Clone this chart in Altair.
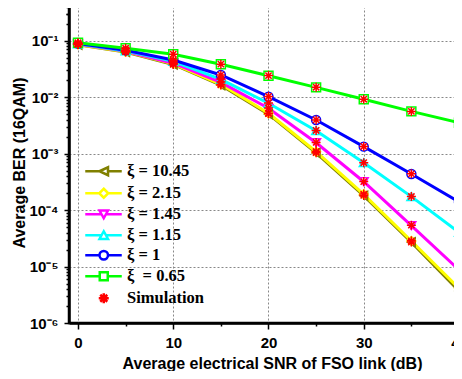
import altair as alt
import pandas as pd

# ---- data ----
snr_db = [0, 5, 10, 15, 20, 25, 30, 35, 40]

series_names = ["ξ = 10.45", "ξ = 2.15", "ξ = 1.45", "ξ = 1.15", "ξ = 1", "ξ\u00a0 = 0.65"]
series_colors = ["#808000", "#ffff00", "#ff00ff", "#00ffff", "#0000ff", "#00ff00"]
series_shapes = ["triangle-left", "diamond", "triangle-down", "triangle-up", "circle", "square"]

ber_xi_1045 = [0.085, 0.063, 0.038, 0.0163, 0.0050, 0.00103, 1.80e-4, 2.70e-5, 3.7e-6]
ber_xi_215 = [0.086, 0.064, 0.039, 0.0169, 0.00518, 0.00108, 1.90e-4, 2.83e-5, 4.1e-6]
ber_xi_145 = [0.087, 0.065, 0.040, 0.0183, 0.00636, 0.00156, 3.18e-4, 5.3e-5, 8.7e-6]
ber_xi_115 = [0.088, 0.066, 0.043, 0.0207, 0.0078, 0.00255, 6.9e-4, 1.73e-4, 4.04e-5]
ber_xi_1 = [0.089, 0.068, 0.0455, 0.0247, 0.0102, 0.00394, 0.00133, 4.36e-4, 1.39e-4]
ber_xi_065 = [0.092, 0.0733, 0.0574, 0.0382, 0.0240, 0.0149, 0.00916, 0.0056, 0.00353]

sim_xi_1045 = [0.086, 0.064, 0.038, 0.0165, 0.0051, 0.00104, 1.82e-4, 2.72e-5, 3.8e-6]
sim_xi_215 = [0.086, 0.064, 0.039, 0.0170, 0.00520, 0.00109, 1.92e-4, 2.85e-5, 4.2e-6]
sim_xi_145 = [0.087, 0.065, 0.040, 0.0185, 0.00640, 0.00158, 3.20e-4, 5.4e-5, 8.8e-6]
sim_xi_115 = [0.088, 0.066, 0.043, 0.0209, 0.0079, 0.00257, 6.9e-4, 1.74e-4, 4.1e-5]
sim_xi_1 = [0.089, 0.068, 0.0457, 0.0248, 0.0103, 0.00396, 0.00134, 4.38e-4, 1.40e-4]
sim_xi_065 = [0.092, 0.0735, 0.0576, 0.0384, 0.0241, 0.0150, 0.00920, 0.0056, 0.00355]

theory = [ber_xi_1045, ber_xi_215, ber_xi_145, ber_xi_115, ber_xi_1, ber_xi_065]
simulation = [sim_xi_1045, sim_xi_215, sim_xi_145, sim_xi_115, sim_xi_1, sim_xi_065]

x_ticks = [0, 5, 10, 15, 20, 25, 30, 35, 40]
y_ticks = [m * 10.0 ** d for d in range(-6, 0) for m in range(1, 10)] + [0.2, 0.3, 0.4]

rows = []
for name, vals in zip(series_names, theory):
    for s, b in zip(snr_db, vals):
        rows.append({"series": name, "snr": s, "ber": b})
df_theory = pd.DataFrame(rows)

rows = []
for name, vals in zip(series_names, simulation):
    for s, b in zip(snr_db, vals):
        rows.append({"series": name, "snr": s, "ber": b})
df_sim = pd.DataFrame(rows)

# ---- legend glyphs: line segment + open marker (unit = sqrt(symbolSize)/2) ----
legend_paths = [
    "M-3.7,0L-0.85,0M0.85,0L3.6,0M-0.85,0L0.85,-0.8L0.85,0.8Z",
    "M-3.7,0L-0.9,0M0.9,0L3.6,0M0,-0.9L0.9,0L0,0.9L-0.9,0Z",
    "M-3.7,0L-0.44,0M0.44,0L3.6,0M-0.85,-0.75L0.85,-0.75L0,0.8Z",
    "M-3.7,0L-0.44,0M0.44,0L3.6,0M-0.85,0.75L0.85,0.75L0,-0.8Z",
    "M-3.7,0L-0.85,0M0.85,0L3.6,0M0.85,0A0.85,0.85,0,1,1,-0.85,0A0.85,0.85,0,1,1,0.85,0Z",
    "M-3.7,0L-0.8,0M0.8,0L3.6,0M-0.8,-0.8L0.8,-0.8L0.8,0.8L-0.8,0.8Z",
]
star_path = "M-1,0L1,0M0,-1L0,1M-0.7,-0.7L0.7,0.7M-0.7,0.7L0.7,-0.7"
all_paths = legend_paths + [star_path]
shape_expr = "[" + ",".join("'" + p + "'" for p in all_paths) + "][indexof(domain('color'), datum.value)]"

is_decade = "abs(log(datum.value)/LN10 - round(log(datum.value)/LN10)) < 0.001"
y_label_expr = (
    f"{is_decade} ? '10\u207b' + ['\u2070','\u00b9','\u00b2','\u00b3','\u2074','\u2075','\u2076']"
    "[-round(log(datum.value)/LN10)] : ''"
)
x_major = "datum.value % 10 === 0"

x_enc = alt.X(
    "snr:Q",
    title="Average electrical SNR of FSO link (dB)",
    scale=alt.Scale(domain=[-0.945, 41.68], nice=False, zero=False),
    axis=alt.Axis(
        values=x_ticks,
        labelExpr=f"{x_major} ? datum.label : ''",
        tickSize={"condition": {"test": x_major, "value": 6}, "value": 3},
        gridOpacity={"condition": {"test": x_major, "value": 1}, "value": 0},
        labelPadding=6,
        titlePadding=5,
        labelOverlap=False,
    ),
)
y_enc = alt.Y(
    "ber:Q",
    title="Average BER (16QAM)",
    scale=alt.Scale(type="log", domain=[1e-6, 0.485], nice=False),
    axis=alt.Axis(
        values=y_ticks,
        labelExpr=y_label_expr,
        tickSize={"condition": {"test": is_decade, "value": 5}, "value": 3},
        gridOpacity={"condition": {"test": is_decade, "value": 1}, "value": 0},
        labelPadding=6,
        titlePadding=1,
        labelOverlap=False,
    ),
)
color_scale = alt.Scale(domain=series_names + ["Simulation"], range=series_colors + ["#ff0000"])
legend = alt.Legend(
    title=None, orient="none", legendX=26.5, legendY=161,
    symbolSize=100, symbolStrokeWidth=2.5, symbolFillColor="white",
    symbolType={"expr": shape_expr},
    labelFont="Liberation Serif", labelFontWeight="bold", labelFontSize=16.5,
    labelColor="black", labelOffset=15, rowPadding=2, padding=0,
)

lines = alt.Chart(df_theory).mark_line(strokeWidth=3, clip=True).encode(
    x=x_enc, y=y_enc,
    color=alt.Color("series:N", scale=color_scale, legend=legend),
)

markers = alt.Chart(df_theory).mark_point(
    filled=False, fill="white", size=80, strokeWidth=1.5, opacity=1, clip=True
).encode(
    x=x_enc, y=y_enc,
    color=alt.Color("series:N", scale=color_scale, legend=legend),
    shape=alt.Shape("series:N", scale=alt.Scale(domain=series_names, range=series_shapes), legend=None),
)

stars = alt.Chart(df_sim).mark_point(
    shape=star_path, size=81, strokeWidth=1.5, color="#ff0000", filled=False, opacity=1, clip=True
).encode(x=x_enc, y=y_enc)

chart = alt.layer(lines, markers, stars).properties(
    width=406, height=321,
    padding={"left": 61, "top": -6, "right": -21, "bottom": 48},
    autosize=alt.AutoSizeParams(type="none"),
    background="white",
).configure_view(
    stroke="black", strokeWidth=2.5
).configure_axis(
    domainColor="black", domainWidth=2.5, tickColor="black", tickWidth=1.5,
    labelFont="Liberation Sans", labelFontWeight="bold", labelFontSize=15, labelColor="black",
    titleFont="Liberation Sans", titleFontWeight="bold", titleFontSize=16, titleColor="black",
    gridColor="#888888", gridDash=[2, 2], gridWidth=1,
)

chart.save("out.html", embed_options={"renderer": "svg", "actions": False})
